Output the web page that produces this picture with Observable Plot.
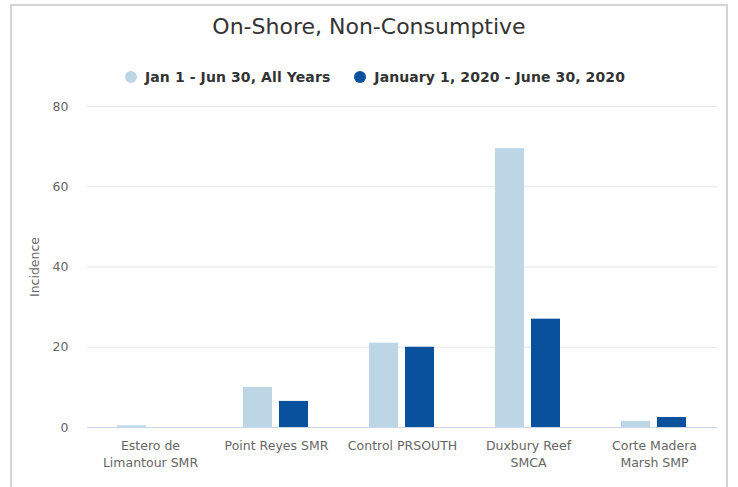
<!DOCTYPE html>
<html>
<head>
<meta charset="utf-8">
<script src="https://cdn.jsdelivr.net/npm/d3@7"></script>
<script src="https://cdn.jsdelivr.net/npm/@observablehq/plot@0.6"></script>
<style>
  html, body { margin: 0; padding: 0; background: #fff; width: 738px; height: 487px; overflow: hidden; }
  #frame { position: absolute; left: 10px; top: 4px; width: 718px; height: 520px; border: 2px solid #d4d4d4; box-sizing: border-box; }
  #title { position: absolute; left: 0; top: 14px; width: 738px; text-align: center; font-family: "DejaVu Sans", sans-serif; font-size: 22px; color: #333; }
  #legend { position: absolute; left: 6px; top: 69px; width: 738px; text-align: center; font-family: "DejaVu Sans", sans-serif; font-weight: bold; font-size: 14px; color: #333; letter-spacing: 0.1px; }
  .item { display: inline-block; margin: 0 12px; }
  .dot { display: inline-block; width: 12px; height: 12px; border-radius: 50%; vertical-align: -1px; margin-right: 8px; }
  #chart { position: absolute; left: 0; top: 95px; }
</style>
</head>
<body>
<div id="frame"></div>
<div id="title"></div>
<div id="legend"></div>
<div id="chart"></div>
<script>
const title = "On-Shore, Non-Consumptive";
const categories = ["Estero de\nLimantour SMR", "Point Reyes SMR", "Control PRSOUTH", "Duxbury Reef\nSMCA", "Corte Madera\nMarsh SMP"];
const seriesNames = ["Jan 1 - Jun 30, All Years", "January 1, 2020 - June 30, 2020"];
const seriesColors = ["#bcd6e6", "#0a519d"];
const allYears = [0.4, 10, 21, 69.5, 1.5];
const year2020 = [0, 6.5, 20, 27, 2.5];
const yTicks = [0, 20, 40, 60, 80];
const yLabel = "Incidence";

document.getElementById("title").textContent = title;
const leg = document.getElementById("legend");
seriesNames.forEach((s, i) => {
  const it = document.createElement("span");
  it.className = "item";
  const d = document.createElement("span");
  d.className = "dot";
  d.style.background = seriesColors[i];
  it.appendChild(d);
  it.appendChild(document.createTextNode(s));
  leg.appendChild(it);
});

const data = [];
categories.forEach((c, i) => {
  data.push({cat: c, series: seriesNames[0], value: allYears[i]});
  data.push({cat: c, series: seriesNames[1], value: year2020[i]});
});

const chart = Plot.plot({
  width: 738,
  height: 385,
  marginTop: 11,
  marginBottom: 53,
  marginLeft: 86,
  marginRight: 20,
  style: {fontFamily: "'DejaVu Sans', sans-serif", fontSize: "12px", color: "#666", background: "transparent"},
  fx: {domain: categories, padding: 0, label: null, tickSize: 0, tickPadding: 14, axis: "bottom"},
  x: {domain: seriesNames, paddingInner: 0.19, paddingOuter: 0.8, axis: null},
  y: {domain: [0, 80], ticks: yTicks, label: null, tickSize: 0, tickPadding: 19},
  color: {domain: seriesNames, range: seriesColors},
  marks: [
    Plot.gridY(yTicks, {stroke: "#e6e6e6", strokeOpacity: 1}),
    Plot.barY(data, {fx: "cat", x: "series", y: "value", fill: "series"}),
    Plot.ruleY([0], {stroke: "#ccd6eb", strokeWidth: 1}),
    Plot.text([yLabel], {frameAnchor: "left", textAnchor: "middle", dx: -53, rotate: -90, fill: "#666", facet: "super"})
  ]
});
chart.querySelectorAll("text").forEach(t => {
  t.style.fontSize = "12.5px";
  const spans = t.querySelectorAll("tspan");
  if (spans.length > 1) spans.forEach((s, i) => { if (i > 0) s.setAttribute("dy", "1.35em"); });
});
document.getElementById("chart").appendChild(chart);
</script>
</body>
</html>
